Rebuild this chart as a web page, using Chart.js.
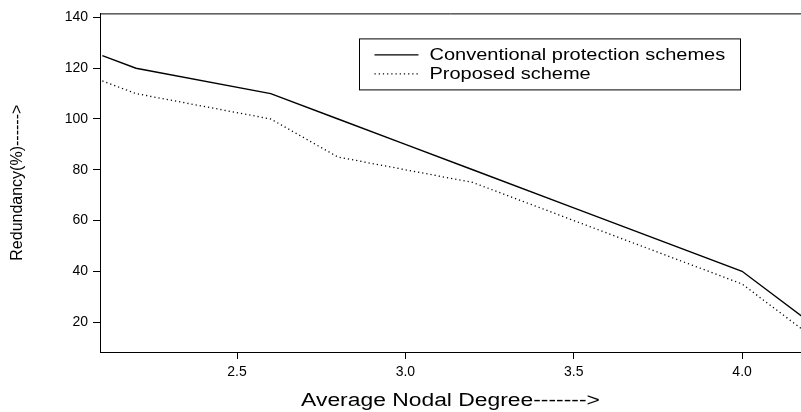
<!DOCTYPE html>
<html>
<head>
<meta charset="utf-8">
<script src="https://cdn.jsdelivr.net/npm/chart.js@4.4.0/dist/chart.umd.min.js"></script>
<style>
  html, body { margin: 0; padding: 0; background: #fff; }
</style>
</head>
<body>
<canvas id="redundancyChart" width="801" height="412"></canvas>
<script>
// data
const nodalDegree = [2.1, 2.2, 2.6, 2.8, 3.0, 3.2, 3.5, 4.0, 4.2];
const conventional = [125, 120, 110, 100, 90, 80, 65, 40, 20];
const proposed = [115, 110, 100, 85, 80, 75, 60, 35, 15];
const xTicks = [2.5, 3.0, 3.5, 4.0];
const yTicks = [20, 40, 60, 80, 100, 120, 140];
const seriesNames = ["Conventional protection schemes", "Proposed scheme"];
const xTitle = "Average Nodal Degree------->";
const yTitle = "Redundancy(%)------>";

const FONT = "'Liberation Sans', Arial, Helvetica, sans-serif";

const toPoints = ys => nodalDegree.map((x, i) => ({ x: x, y: ys[i] }));

// the original's horizontal text is a wide face, so stretch it a bit
function wideText(ctx, text, x, y, size, stretch, align) {
  ctx.save();
  ctx.font = size + "px " + FONT;
  ctx.textAlign = align;
  ctx.textBaseline = "middle";
  ctx.translate(x, y);
  ctx.scale(stretch, 1);
  ctx.fillText(text, 0, 0);
  ctx.restore();
}

// top edge of the plot box + x title
const frame = {
  id: "frame",
  afterDraw(chart) {
    const { ctx, chartArea } = chart;
    ctx.save();
    ctx.strokeStyle = "#000";
    ctx.lineWidth = 1;
    ctx.beginPath();
    ctx.moveTo(chartArea.left, chartArea.top + 0.5);
    ctx.lineTo(chartArea.right, chartArea.top + 0.5);
    ctx.stroke();
    ctx.fillStyle = "#000";
    wideText(ctx, xTitle, (chartArea.left + chartArea.right) / 2, chart.height - 11, 18, 1.27, "center");
    ctx.restore();
  }
};

// boxed legend, R style
const boxLegend = {
  id: "boxLegend",
  afterDraw(chart) {
    const { ctx, chartArea } = chart;
    const left = chartArea.left + 259.5, top = chartArea.top + 25.5;
    const w = 381, h = 51;
    ctx.save();
    ctx.strokeStyle = "#000";
    ctx.fillStyle = "#000";
    ctx.lineWidth = 1;
    ctx.strokeRect(left, top, w, h);
    chart.data.datasets.forEach((ds, i) => {
      const y = top + 16 + i * 19;
      ctx.beginPath();
      ctx.setLineDash(ds.borderDash || []);
      ctx.lineWidth = ds.borderWidth;
      ctx.moveTo(left + 15, y);
      ctx.lineTo(left + 59, y);
      ctx.stroke();
      ctx.setLineDash([]);
      wideText(ctx, ds.label, left + 70, y + 1, 16, 1.25, "left");
    });
    ctx.restore();
  }
};

new Chart(document.getElementById("redundancyChart"), {
  type: "scatter",
  data: {
    datasets: [
      {
        label: seriesNames[0],
        data: toPoints(conventional),
        showLine: true,
        borderColor: "#000",
        borderWidth: 1.4,
        pointRadius: 0,
        tension: 0
      },
      {
        label: seriesNames[1],
        data: toPoints(proposed),
        showLine: true,
        borderColor: "#000",
        borderWidth: 1.3,
        borderDash: [1.2, 3],
        pointRadius: 0,
        tension: 0
      }
    ]
  },
  options: {
    responsive: false,
    animation: false,
    devicePixelRatio: 1,
    layout: { padding: { top: 12, right: 0, bottom: 0, left: 0 } },
    plugins: {
      legend: { display: false },
      tooltip: { enabled: false }
    },
    scales: {
      x: {
        type: "linear",
        min: 2.093,
        max: 4.175,
        afterBuildTicks: s => { s.ticks = xTicks.map(v => ({ value: v })); },
        afterFit: s => { s.height = 60; },
        grid: { drawOnChartArea: false, drawTicks: true, tickLength: 7, color: "#000", lineWidth: 1 },
        border: { display: true, color: "#000", width: 1 },
        ticks: {
          color: "#000",
          font: { family: FONT, size: 14 },
          padding: 5,
          maxRotation: 0,
          callback: v => Number(v).toFixed(1)
        },
        title: { display: false }
      },
      y: {
        type: "linear",
        min: 8.2,
        max: 141.6,
        afterBuildTicks: s => { s.ticks = yTicks.map(v => ({ value: v })); },
        afterFit: s => { s.width = 100; },
        grid: { drawOnChartArea: false, drawTicks: true, tickLength: 7, color: "#000", lineWidth: 1 },
        border: { display: true, color: "#000", width: 1 },
        ticks: {
          color: "#000",
          font: { family: FONT, size: 14 },
          padding: 5
        },
        title: {
          display: true,
          text: yTitle,
          color: "#000",
          font: { family: FONT, size: 16 },
          padding: { top: 8, bottom: 0 }
        }
      }
    }
  },
  plugins: [frame, boxLegend]
});
</script>
</body>
</html>
